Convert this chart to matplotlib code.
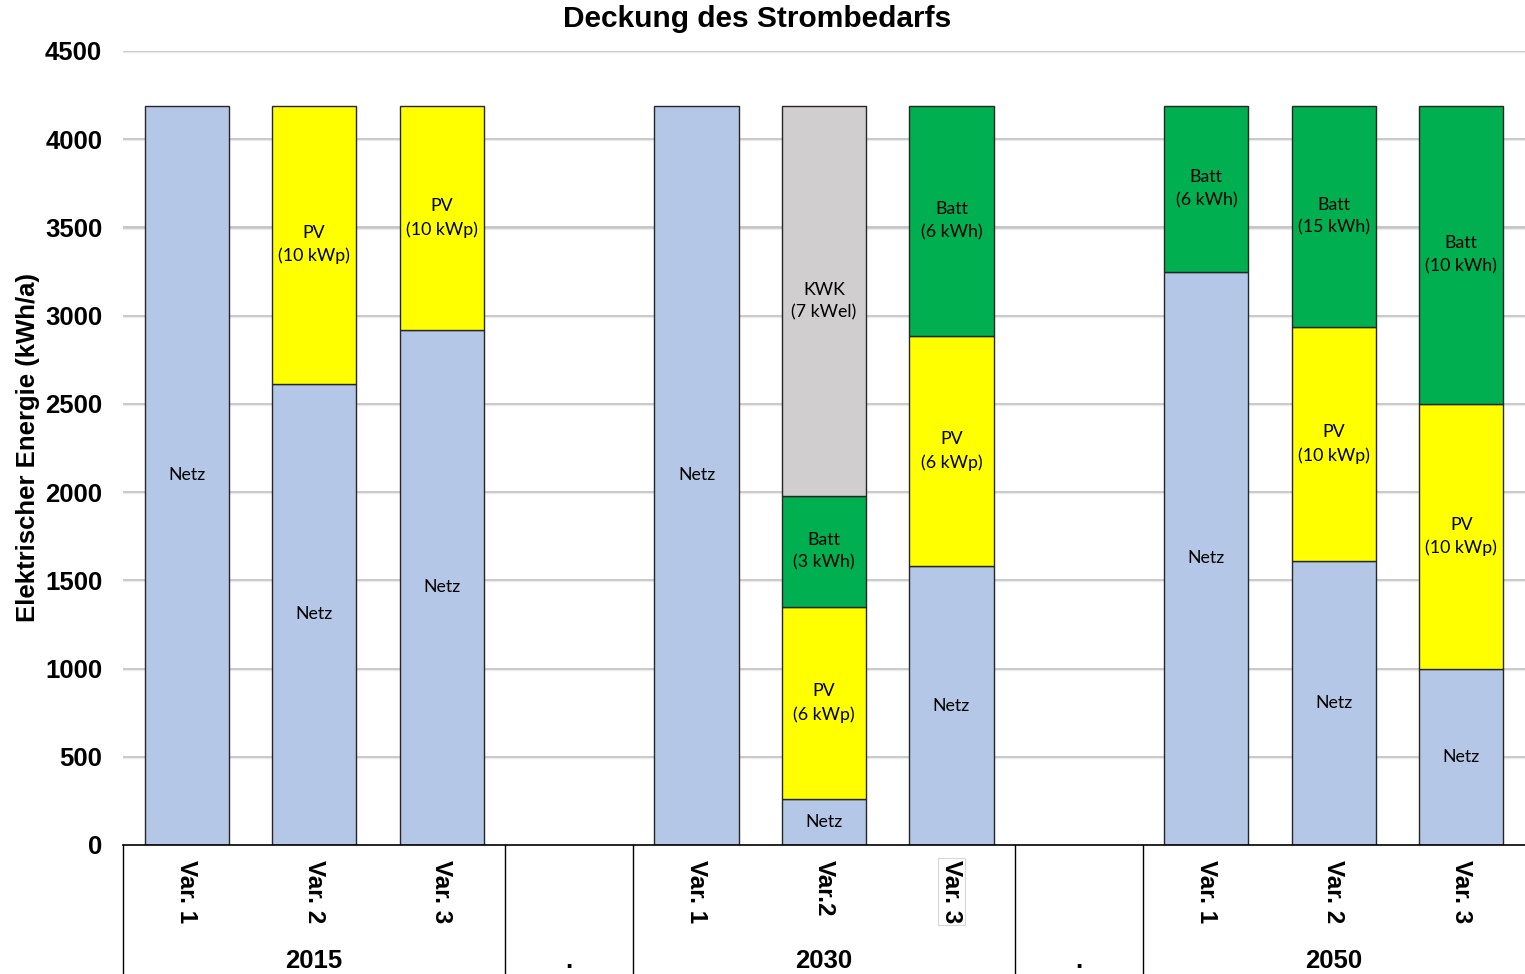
import numpy as np
import matplotlib
matplotlib.use("Agg")
import matplotlib.pyplot as plt
import matplotlib.transforms as mtransforms
from matplotlib.font_manager import FontProperties

# --- Daten ---
groups = ['2015', '.', '2030', '.', '2050']
var_labels = ['Var. 1', 'Var. 2', 'Var. 3',
              'Var. 1', 'Var.2', 'Var. 3',
              'Var. 1', 'Var. 2', 'Var. 3']
netz = [4190, 2613, 2919, 4190, 261, 1581, 3248, 1610, 998]
pv = [0, 1577, 1271, 0, 1088, 1304, 0, 1326, 1502]
batt = [0, 0, 0, 0, 629, 1305, 942, 1254, 1690]
kwk = [0, 0, 0, 0, 2212, 0, 0, 0, 0]

pv_size = ['', '10 kWp', '10 kWp', '', '6 kWp', '6 kWp', '', '10 kWp', '10 kWp']
batt_size = ['', '', '', '', '3 kWh', '6 kWh', '6 kWh', '15 kWh', '10 kWh']
kwk_size = ['', '', '', '', '7 kWel', '', '', '', '']

# Positionen: 3 Balken je Jahr, dazwischen eine leere Spalte
xpos = np.array([0, 1, 2, 4, 5, 6, 8, 9, 10])

C_NETZ = '#B4C7E7'
C_PV = '#FFFF00'
C_BATT = '#00B050'
C_KWK = '#D0CECE'

bold = dict(family='Liberation Sans', weight='bold', size=18.5)
seg_font = dict(family='Lato', size=12.8)

fig = plt.figure(figsize=(15.25, 9.74), dpi=100)
ax = fig.add_axes([123 / 1525, 129 / 974, 1402 / 1525, 794 / 974])

# Gitterlinien
for y in range(500, 4501, 500):
    ax.axhline(y, color='#c4c4c4', lw=2.0, zorder=0)
    ax.axhline(y - 6, color='#ececec', lw=1.0, zorder=0)

w = 0.66
bottom = np.zeros(len(xpos))
for vals, col, name, sizes in [(netz, C_NETZ, 'Netz', None),
                               (pv, C_PV, 'PV', pv_size),
                               (batt, C_BATT, 'Batt', batt_size),
                               (kwk, C_KWK, 'KWK', kwk_size)]:
    vals = np.array(vals, dtype=float)
    m = vals > 0
    ax.bar(xpos[m], vals[m], width=w, bottom=bottom[m], color=col,
           edgecolor='#262626', linewidth=1.0, zorder=2)
    for i, v in enumerate(vals):
        if v <= 0:
            continue
        txt = name if sizes is None else f"{name}\n({sizes[i]})"
        ax.text(xpos[i], bottom[i] + v / 2, txt, ha='center', va='center',
                linespacing=1.5, zorder=3, **seg_font)
    bottom += vals

ax.set_xlim(-0.5, 10.5)
ax.set_ylim(0, 4500)
ax.set_yticks(range(0, 4501, 500))
ax.tick_params(axis='y', length=0, pad=15)
for lab in ax.get_yticklabels():
    lab.set_fontproperties(FontProperties(**bold))
ax.set_xticks([])
for s in ['top', 'right', 'left']:
    ax.spines[s].set_visible(False)
ax.spines['bottom'].set_color('black')
ax.spines['bottom'].set_linewidth(1.2)

ax.set_ylabel('Elektrischer Energie (kWh/a)', **bold)
ax.yaxis.set_label_coords(-0.0595, 0.5)

# Kategorienachse mit Trennlinien
trans = mtransforms.blended_transform_factory(ax.transData, ax.transAxes)
low = -129 / 794
for xb in [-0.5, 2.5, 3.5, 6.5, 7.5]:
    ax.plot([xb, xb], [0, low], transform=trans, color='black', lw=1.0,
            clip_on=False)

var_font = dict(bold, size=17.5)
for i, (x, lab) in enumerate(zip(xpos, var_labels)):
    kw = {}
    if i == 5:
        kw['bbox'] = dict(facecolor='none', edgecolor='#d8d8d8', lw=0.8, pad=1.5)
    ax.text(x, -15 / 794, lab, transform=trans, rotation=270,
            ha='center', va='top', **var_font, **kw)

for g, x in zip(groups, [1, 3, 5, 7, 9]):
    ax.text(x, -116 / 794, g, transform=trans, ha='center', va='center', **bold)

fig.text(757 / 1525, 1 - 19 / 974, 'Deckung des Strombedarfs',
         ha='center', va='center', family='Liberation Sans', weight='bold',
         size=21.5)

fig.savefig('out.png', dpi=100)
